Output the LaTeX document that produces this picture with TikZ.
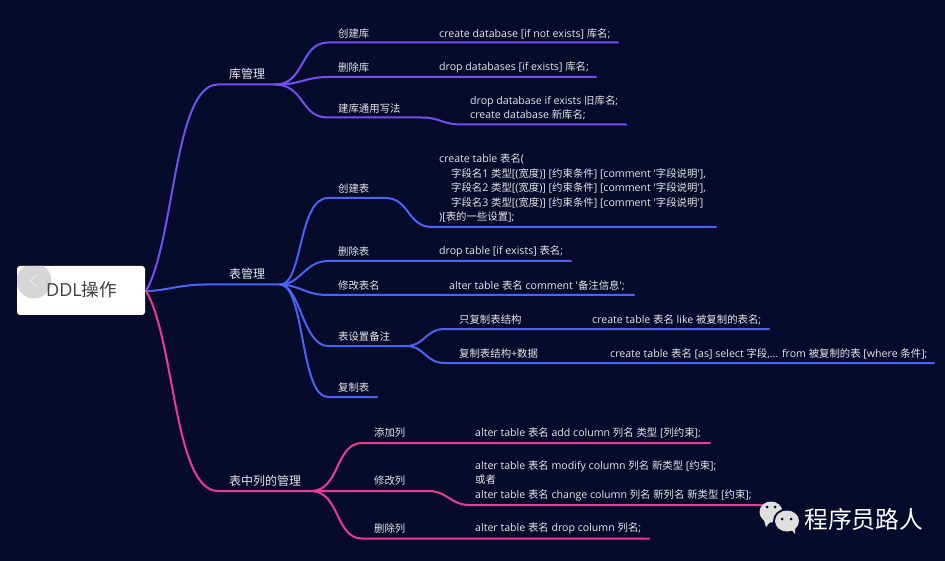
\documentclass[tikz,border=0pt]{standalone}
\usepackage{fontspec}
\setmainfont{Open Sans}[Ligatures=TeXOff]
\newfontfamily\cjkf[Scale=0.98]{Noto Sans CJK SC}
\newcount\cjkcnt
\cjkcnt="4E00
\loop
\XeTeXcharclass\cjkcnt=1
\advance\cjkcnt by 1
\ifnum\cjkcnt<"A000
\repeat
\XeTeXinterchartokenstate=1
\XeTeXinterchartoks 0 1={\begingroup\cjkf}
\XeTeXinterchartoks 4095 1={\begingroup\cjkf}
\XeTeXinterchartoks 1 0={\endgroup}
\XeTeXinterchartoks 1 4095={\endgroup}
\definecolor{bgc}{HTML}{060B2C}
\definecolor{pur}{HTML}{7250EE}
\definecolor{blu}{HTML}{4A63F2}
\definecolor{pnk}{HTML}{EE3A92}
\definecolor{txt}{HTML}{E6E6EA}
\tikzset{
 lab/.style={anchor=west,inner sep=0pt,text=txt,yshift=-0.7pt,font=\fontsize{10.6}{14.6}\selectfont,align=left},
 mainlab/.style={anchor=west,inner sep=0pt,text=txt,yshift=-0.3pt,font=\fontsize{12.25}{14}\selectfont},
 wire/.style={line width=2pt,line cap=round},
 purw/.style={wire,draw=pur},
 bluw/.style={wire,draw=blu},
 pnkw/.style={wire,draw=pnk},
}
\begin{document}
\begin{tikzpicture}[x=1pt,y=-1pt]
\path[use as bounding box,fill=bgc] (0,0) rectangle (945,561);
% root
\node[draw=none,fill=white,rounded corners=3pt,minimum width=128pt,minimum height=49pt,inner sep=0pt] (root) at (81,290.5) {};
\begin{scope}
\clip[rounded corners=3pt] (17,266) rectangle (145,315);
\fill[black!16] (34,281) circle (17.5);
\end{scope}
\draw[white,line width=0.5pt] (37,275) -- (30,281) -- (37,287);
\node[anchor=west,inner sep=0pt,text=black!75,font=\fontsize{18}{20}\selectfont] (roott) at (46,290) {DDL操作};
% coordinates
\coordinate (r) at (146,291);
\coordinate (k0) at (218,84.5);\coordinate (k1) at (275,84.5);
\coordinate (b0) at (205,284.5);\coordinate (b1) at (280,284.5);
\coordinate (p0) at (218,491);\coordinate (p1) at (311,491);
% purple
\draw[purw] (r) .. controls (175,240) and (174,84.5) .. (k0) -- (k1);
\coordinate (k1a) at (328,42.5);\coordinate (k1b) at (618,42.5);
\coordinate (k2a) at (328,77);\coordinate (k2b) at (596,77);
\coordinate (k3a) at (328,117.5);\coordinate (k3c) at (422,117.5);\coordinate (k3d) at (462,124.5);\coordinate (k3b) at (626,124.5);
\draw[purw] (k1) .. controls (305,85) and (300,42.5) .. (k1a) -- (k1b);
\draw[purw] (k1) .. controls (300,85) and (305,77) .. (k2a) -- (k2b);
\draw[purw] (k1) .. controls (305,85) and (300,117.5) .. (k3a) -- (k3c) .. controls (440,117.5) and (442,124.5) .. (k3d) -- (k3b);
% blue
\draw[bluw] (r) .. controls (165,291) and (180,284.5) .. (b0) -- (b1);
\coordinate (t1a) at (328,198);\coordinate (t1c) at (385,198);\coordinate (t1d) at (432,227);\coordinate (t1b) at (716,227);
\coordinate (t2a) at (328,261);\coordinate (t2b) at (571,261);
\coordinate (t3a) at (328,295);\coordinate (t3b) at (634,295);
\coordinate (t4a) at (328,346);\coordinate (t4c) at (406,346);
\coordinate (t5a) at (328,397);\coordinate (t5b) at (377,397);
\coordinate (u1a) at (445,329);\coordinate (u1b) at (769,329);
\coordinate (u2a) at (445,363);\coordinate (u2b) at (934,363);
\draw[bluw] (b1) .. controls (303,285) and (298,198) .. (t1a) -- (t1c) .. controls (410,198) and (407,227) .. (t1d) -- (t1b);
\draw[bluw] (b1) .. controls (300,285) and (305,261) .. (t2a) -- (t2b);
\draw[bluw] (b1) .. controls (300,285) and (305,295) .. (t3a) -- (t3b);
\draw[bluw] (b1) .. controls (300,285) and (303,346) .. (t4a) -- (t4c);
\draw[bluw] (b1) .. controls (305,285) and (300,397) .. (t5a) -- (t5b);
\draw[bluw] (t4c) .. controls (425,346) and (425,329) .. (u1a) -- (u1b);
\draw[bluw] (t4c) .. controls (425,346) and (425,363) .. (u2a) -- (u2b);
% pink
\draw[pnkw] (r) .. controls (175,340) and (174,491) .. (p0) -- (p1);
\coordinate (c1a) at (362,443);\coordinate (c1b) at (710,443);
\coordinate (c2a) at (362,491);\coordinate (c2c) at (428,491);\coordinate (c2d) at (470,505);\coordinate (c2b) at (762,505);
\coordinate (c3a) at (362,538.5);\coordinate (c3b) at (649,538.5);
\draw[pnkw] (p1) .. controls (340,491) and (335,443) .. (c1a) -- (c1b);
\draw[pnkw] (p1) -- (c2a) -- (c2c) .. controls (448,491) and (450,505) .. (c2d) -- (c2b);
\draw[pnkw] (p1) .. controls (340,491) and (335,538.5) .. (c3a) -- (c3b);
% main labels
\node[mainlab] (m1) at (229,74) {库管理};
\node[mainlab] (m2) at (229,273.5) {表管理};
\node[mainlab] (m3) at (229,480.5) {表中列的管理};
% sub labels
\node[lab] (s1) at (338,33) {创建库};
\node[lab] (s2) at (338,67) {删除库};
\node[lab] (s3) at (338,107.5) {建库通用写法};
\node[lab] (s4) at (338,188) {创建表};
\node[lab] (s5) at (338,251) {删除表};
\node[lab] (s6) at (338,285) {修改表名};
\node[lab] (s7) at (338,336) {表设置备注};
\node[lab] (s8) at (338,387) {复制表};
\node[lab] (s9) at (374,432) {添加列};
\node[lab] (s10) at (374,480) {修改列};
\node[lab] (s11) at (374,528) {删除列};
\node[lab] (s12) at (459,319) {只复制表结构};
\node[lab] (s13) at (459,353) {复制表结构+数据};
% leaves
\node[lab] (l1) at (439,33) {create database [if not exists] 库名;};
\node[lab] (l2) at (439,67) {drop databases [if exists] 库名;};
\node[lab] (l3) at (470,107) {drop database if exists 旧库名;\\create database 新库名;};
\node[lab] (l4) at (439,187.5) {create table 表名(\\\hspace*{12pt}字段名1 类型[(宽度)] [约束条件] [comment '字段说明'],\\\hspace*{12pt}字段名2 类型[(宽度)] [约束条件] [comment '字段说明'],\\\hspace*{12pt}字段名3 类型[(宽度)] [约束条件] [comment '字段说明']\\)[表的一些设置];};
\node[lab] (l5) at (439,251) {drop table [if exists] 表名;};
\node[lab] (l6) at (449,285) {alter table 表名 comment '备注信息';};
\node[lab] (l7) at (592,319) {create table 表名 like 被复制的表名;};
\node[lab] (l8) at (610,353) {create table 表名 [as] select 字段,... from 被复制的表 [where 条件];};
\node[lab] (l9) at (475,432) {alter table 表名 add column 列名 类型 [列约束];};
\node[lab] (l10) at (475,480) {alter table 表名 modify column 列名 新类型 [约束];\\或者\\alter table 表名 change column 列名 新列名 新类型 [约束];};
\node[lab] (l11) at (475,528) {alter table 表名 drop column 列名;};
% watermark
\fill[black!12] (771,512) ellipse (11.5 and 10.5);
\fill[black!12] (763,517) -- (766,527) -- (771,521) -- cycle;
\fill[bgc] (787,521) ellipse (14 and 12.5);
\fill[black!12] (787,521) ellipse (12 and 10.5);
\fill[black!12] (791,529) -- (795,534) -- (795,525) -- cycle;
\foreach \p in {(767,507),(775,507),(782,519),(791,519)} \fill[bgc] \p circle (1.5);
\node[anchor=west,inner sep=0pt,text=white,font=\fontsize{24.3}{26}\selectfont] (wm) at (804,519) {程序员路人};
\end{tikzpicture}
\end{document}
